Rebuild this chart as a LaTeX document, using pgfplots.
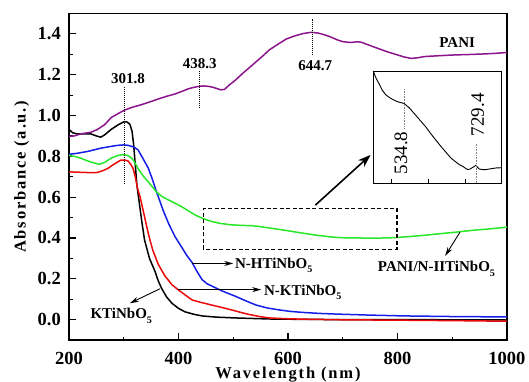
\documentclass[border=0pt]{standalone}
\usepackage{fontspec}
\setmainfont{Liberation Serif}
\newfontfamily\spacedfont[LetterSpace=11]{Liberation Serif}
\usepackage{pgfplots}
\pgfplotsset{compat=1.18}
\usetikzlibrary{arrows.meta}
\definecolor{cpani}{RGB}{140,20,140}
\definecolor{cgreen}{RGB}{40,230,40}
\definecolor{cblue}{RGB}{20,30,230}
\definecolor{cred}{RGB}{235,10,10}
\newcommand{\sub}[1]{{\fontsize{10}{10}\selectfont\raisebox{-4.5pt}{#1}}}
\begin{document}
\begin{tikzpicture}
\useasboundingbox (-69pt,-41pt) rectangle (460pt,340pt);
\begin{axis}[name=main, at={(0pt,0pt)}, anchor=south west, scale only axis,
  width=438pt, height=326.5pt,
  xmin=200, xmax=1000, ymin=-0.1, ymax=1.5,
  xtick={200,400,600,800,1000}, minor xtick={300,500,700,900},
  ytick={0,0.2,0.4,0.6,0.8,1.0,1.2,1.4}, minor ytick={0.1,0.3,0.5,0.7,0.9,1.1,1.3},
  tick align=inside, xtick pos=bottom, ytick pos=left,
  major tick length=7pt, minor tick length=3.5pt,
  axis line style={line width=1.3pt},
  every tick/.style={line width=1.1pt, black},
  /pgf/number format/assume math mode=true,
  tick label style={font=\fontsize{18.5}{20}\selectfont\bfseries, inner sep=0pt},
  yticklabel style={/pgf/number format/.cd, fixed, fixed zerofill, precision=1, /tikz/.cd, anchor=east, xshift=-8pt},
  xticklabel style={/pgf/number format/1000 sep={}, anchor=base, yshift=-24.5pt},
  xlabel={\spacedfont\bfseries Wavelength (nm)},
  ylabel={\spacedfont\bfseries Absorbance (a.u.)},
  label style={font=\fontsize{16.5}{18}\selectfont, inner sep=0pt},
  xlabel style={at={(axis description cs:0.5,0)}, anchor=base, yshift=-38.5pt, text height=10.5pt, text depth=2.5pt},
  ylabel style={at={(axis description cs:-0.108,0.5)}, anchor=center},
  clip=false,
]
\addplot[black, line width=1.5pt] coordinates {(200,0.932)(207,0.915)(215,0.910)(230,0.910)(240,0.910)(250,0.900)(258,0.894)(265,0.905)(277,0.932)(290,0.955)(301,0.970)(306,0.968)(311,0.958)(315,0.925)(318,0.86)(321,0.76)(324,0.66)(328,0.58)(333,0.48)(338,0.39)(347,0.30)(357,0.237)(363,0.19)(369,0.154)(378,0.112)(388,0.080)(400,0.055)(412,0.038)(428,0.026)(443,0.018)(470,0.012)(505,0.008)(566,0.003)(630,0.001)(700,0.0)(800,0.0)(1000,-0.002)};
\addplot[cblue, line width=1.5pt] coordinates {(200,0.810)(215,0.815)(234,0.824)(258,0.840)(275,0.848)(289,0.854)(300,0.856)(308,0.854)(318,0.846)(326,0.832)(335,0.79)(345,0.741)(352,0.69)(360,0.625)(363,0.603)(372,0.535)(382,0.470)(394,0.405)(406,0.354)(415,0.315)(425,0.279)(434,0.235)(443,0.196)(452,0.176)(462,0.163)(480,0.140)(505,0.113)(522,0.093)(542,0.071)(562,0.057)(585,0.047)(605,0.040)(628,0.035)(660,0.030)(689,0.027)(750,0.022)(812,0.018)(900,0.015)(1000,0.013)};
\addplot[cgreen, line width=1.5pt] coordinates {(200,0.804)(210,0.800)(221,0.791)(240,0.772)(255,0.761)(265,0.770)(277,0.791)(290,0.805)(298,0.808)(305,0.806)(311,0.799)(318,0.78)(326,0.741)(335,0.705)(345,0.674)(353,0.648)(360,0.625)(370,0.603)(382,0.586)(394,0.570)(406,0.553)(418,0.533)(431,0.512)(443,0.497)(450,0.490)(462,0.480)(475,0.472)(494,0.465)(512,0.462)(534,0.460)(548,0.456)(566,0.449)(594,0.438)(621,0.426)(648,0.415)(675,0.406)(694,0.402)(710,0.400)(730,0.400)(757,0.399)(775,0.400)(794,0.4015)(812,0.405)(845,0.412)(874,0.420)(905,0.428)(935,0.437)(970,0.445)(1000,0.453)};
\addplot[cred, line width=1.5pt] coordinates {(200,0.724)(220,0.722)(240,0.720)(252,0.721)(262,0.73)(271,0.741)(283,0.763)(295,0.782)(302,0.782)(308,0.777)(313,0.760)(317,0.741)(321,0.70)(325,0.645)(330,0.60)(335,0.54)(340,0.48)(345,0.420)(353,0.34)(363,0.271)(375,0.215)(388,0.171)(400,0.145)(412,0.121)(425,0.096)(440,0.085)(455,0.075)(475,0.062)(492,0.051)(510,0.038)(529,0.025)(548,0.015)(566,0.008)(600,0.004)(628,0.002)(700,-0.001)(812,-0.003)(900,-0.005)(1000,-0.008)};
\addplot[cpani, line width=1.5pt] coordinates {(200,0.898)(210,0.900)(221,0.910)(240,0.918)(252,0.932)(265,0.955)(277,0.990)(290,1.010)(301,1.026)(315,1.040)(332,1.053)(348,1.067)(363,1.081)(378,1.094)(394,1.106)(406,1.118)(418,1.131)(428,1.138)(437,1.143)(446,1.145)(455,1.143)(465,1.137)(477,1.126)(484,1.128)(492,1.148)(505,1.176)(517,1.206)(530,1.236)(542,1.264)(554,1.292)(566,1.322)(582,1.350)(597,1.375)(612,1.390)(628,1.402)(643,1.408)(655,1.404)(665,1.397)(677,1.386)(689,1.372)(700,1.362)(714,1.358)(725,1.361)(733,1.360)(748,1.345)(763,1.330)(782,1.312)(800,1.297)(812,1.287)(825,1.280)(837,1.283)(849,1.289)(875,1.293)(905,1.297)(930,1.299)(960,1.302)(980,1.305)(1000,1.309)};
% peak markers
\draw[black, line width=1pt, dash pattern=on 1pt off 1pt] (axis cs:301.8,0.666) -- (axis cs:301.8,1.143);
\draw[black, line width=1pt, dash pattern=on 1pt off 1pt] (axis cs:438.3,1.036) -- (axis cs:438.3,1.222);
\draw[black, line width=1pt, dash pattern=on 1pt off 1pt] (axis cs:644.7,1.297) -- (axis cs:644.7,1.474);
\begin{scope}[every node/.style={font=\fontsize{15}{17}\selectfont\bfseries, inner sep=0pt}]
\node[anchor=base] at (axis cs:307.7,1.157) {301.8};
\node[anchor=base] at (axis cs:439,1.231) {438.3};
\node[anchor=base] at (axis cs:650,1.222) {644.7};
\node[anchor=base] at (axis cs:909,1.335) {PANI};
\node[anchor=base west] at (axis cs:503,0.252) {N-HTiNbO\sub{5}};
\node[anchor=base west] at (axis cs:556,0.120) {N-KTiNbO\sub{5}};
\node[anchor=base west] at (axis cs:239,0.005) {KTiNbO\sub{5}};
\node[anchor=base west] at (axis cs:764,0.235) {PANI/N-IITiNbO\sub{5}};
\end{scope}
\draw[line width=0.9pt, -{Stealth[length=9pt,width=5pt]}] (axis cs:425,0.275) -- (axis cs:500,0.275);
\draw[line width=0.9pt, -{Stealth[length=9pt,width=5pt]}] (axis cs:400,0.147) -- (axis cs:551,0.147);
\draw[line width=0.9pt, -{Stealth[length=9pt,width=5pt]}] (axis cs:366,0.151) -- (axis cs:311,0.08);
\draw[line width=0.9pt, -{Stealth[length=9pt,width=5pt]}] (axis cs:914,0.428) -- (axis cs:887,0.312);
\draw[line width=1.6pt, -{Stealth[length=13pt,width=9pt]}] (axis cs:650,0.561) -- (axis cs:751,0.807);
\draw[line width=1.1pt, dash pattern=on 4pt off 2.5pt] (axis cs:445,0.345) rectangle (axis cs:799,0.544);
\end{axis}
\begin{axis}[at={(304.3pt,157pt)}, anchor=south west, scale only axis,
  width=128.4pt, height=112pt,
  xmin=450, xmax=800, ymin=0.3866, ymax=0.49,
  xtick={500,600,700}, xticklabels={}, ytick=\empty,
  tick align=inside, xtick pos=bottom,
  major tick length=4pt, every tick/.style={line width=0.8pt, black},
  axis line style={line width=0.9pt},
  axis background/.style={fill=white},
  clip=false,
]
\addplot[black, line width=0.9pt] coordinates {(450,0.490)(456,0.4845)(462,0.4805)(469,0.476)(475,0.472)(484,0.468)(494,0.4655)(503,0.4637)(512,0.4622)(523,0.461)(534,0.460)(541,0.458)(548,0.456)(557,0.4525)(566,0.449)(580,0.4435)(594,0.438)(607,0.432)(621,0.426)(634,0.4205)(648,0.415)(662,0.4095)(675,0.406)(685,0.4035)(694,0.402)(700,0.4005)(707,0.399)(714,0.3995)(721,0.401)(726,0.402)(730,0.403)(734,0.401)(739,0.3995)(748,0.399)(757,0.399)(766,0.3995)(775,0.400)(785,0.4005)(794,0.4006)(800,0.4008)};
\draw[gray, line width=0.6pt, dash pattern=on 0.8pt off 0.8pt] (axis cs:534.8,0.437) -- (axis cs:534.8,0.473);
\draw[gray, line width=0.6pt, dash pattern=on 0.8pt off 0.8pt] (axis cs:729.4,0.3866) -- (axis cs:729.4,0.4225);
\node[rotate=90, font=\fontsize{19}{21}\selectfont, inner sep=0pt] at (axis cs:525.5,0.4144) {534.8};
\node[rotate=90, font=\fontsize{19}{21}\selectfont, inner sep=0pt] at (axis cs:734.5,0.4496) {729.4};
\end{axis}
\end{tikzpicture}
\end{document}
